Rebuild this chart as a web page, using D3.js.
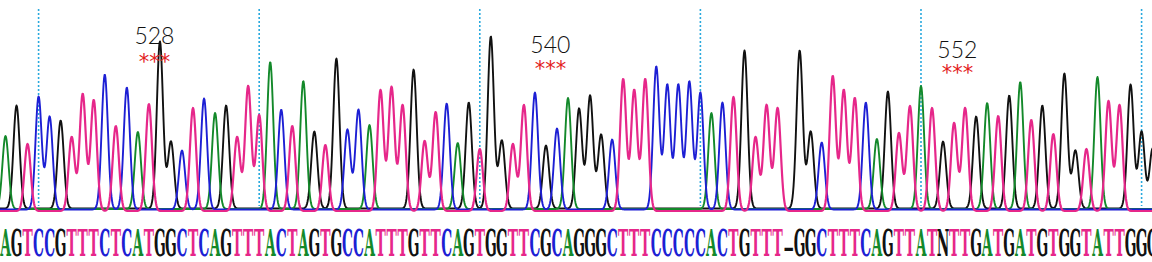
<!DOCTYPE html>
<html>
<head>
<meta charset="utf-8">
<script src="https://cdn.jsdelivr.net/npm/d3@7"></script>
<style>
  html, body { margin: 0; padding: 0; background: #fff; overflow: hidden; }
  svg { display: block; }
  .base { font-family: "DejaVu Serif Condensed", "DejaVu Serif", serif; font-stretch: condensed; font-weight: bold; font-size: 18px; }
  .pos { font-family: Lato, "Open Sans", sans-serif; font-weight: 300; font-size: 23px; fill: #111; }
  .stars { font-family: "DejaVu Sans", sans-serif; font-size: 21px; fill: #e3201c; }
</style>
</head>
<body>
<script>
// called bases, left to right (last one is cut off by the window edge)
const bases = ("AGTCCGTTTCTCATGGCTCAGTTTAC" +
               "TAGTGCCATTTGTTCAGTGGTTCGCA" +
               "GGGCTTTCCCCCACTGTTT-GGCTTTC" +
               "AGTTATNTTGATGATGTGGTATTGG" + "G").split("");

// peak height of each called base (signal units, 0 = baseline)
const peakHeights = [
   73, 103,  67, 113,  93,  88,  74, 117, 111, 135,
   85, 122,  77, 107, 167,  67,  59, 103, 111,  96,
  103,  74, 125,  96, 147, 100,  85, 128,  77,  66,
  150,  80, 100,  84, 121, 124, 106, 139,  70,  99,
  106,  66, 106,  62, 172,  68,  67, 106, 117,  63,
   81, 111, 100, 113,  74,  70, 132, 121, 132, 143,
  125, 125, 128, 117,  96, 107, 114, 158,  74, 106,
  103,   0, 158,  77,  67, 135, 121, 113, 107,  70,
  117,  78, 105, 123, 103,  67,  88, 103,  92, 106,
   95, 113, 127,  91, 103,  77, 135,  58,  62, 132,
  110, 106, 124,  77,  60
];

// dotted grid marks, at base index
const gridBases = [3, 23, 43, 63, 83, 103];

// codon markers: label, base position, label baseline and star baseline (signal units)
const markerLabels = ["528", "540", "552"];
const markerBases = [13.5, 49.4, 86.3];
const markerLevels = [166, 157, 152.5];
const starLevels = [141.5, 134.5, 130];

const width = 1152, height = 262;
const baseY = 210;
const channels = ["G", "A", "C", "T"];
const colors = { A: "#13892a", C: "#1d1fd4", G: "#111111", T: "#e6278a", N: "#111111", "-": "#111111" };
const channelOffset = { G: -1.5, A: -1, C: -0.5, T: 1 };

const x = d3.scaleLinear().domain([0, bases.length - 1]).range([5.5, 5.5 + (bases.length - 1) * 11.03]);
const y = d3.scaleLinear().domain([0, 200]).range([baseY, baseY - 200]);

const svg = d3.select("body").append("svg")
  .attr("width", width)
  .attr("height", height);

// dotted marks
svg.selectAll(".grid")
  .data(gridBases)
  .enter().append("line")
  .attr("class", "grid")
  .attr("x1", d => x(d)).attr("x2", d => x(d))
  .attr("y1", 9).attr("y2", baseY - 4)
  .attr("stroke", "#2aa9dd")
  .attr("stroke-width", 1.6)
  .attr("stroke-dasharray", "2,2");

// traces
const sigma = 3.1;
const peaks = bases.map((b, i) => ({ ch: b === "N" ? "G" : b, i: i, h: peakHeights[i] }))
  .filter(p => p.ch !== "-");

const samples = d3.range(-4, width + 4, 0.5);
channels.forEach(ch => {
  const own = peaks.filter(p => p.ch === ch);
  const pts = samples.map(px => {
    let v = 0;
    own.forEach(p => {
      const dx = px - x(p.i);
      if (Math.abs(dx) < 20) v += p.h * Math.exp(-dx * dx / (2 * sigma * sigma));
    });
    return [px, y(v) + channelOffset[ch]];
  });
  svg.append("path")
    .attr("d", d3.line()(pts))
    .attr("fill", "none")
    .attr("stroke", colors[ch])
    .attr("stroke-width", ch === "T" ? 2.2 : 1.9)
    .attr("stroke-linejoin", "round");
});

// sequence letters
svg.selectAll(".base")
  .data(bases)
  .enter().append("text")
  .attr("class", "base")
  .attr("text-anchor", "middle")
  .attr("transform", (d, i) => d === "-"
      ? `translate(${x(i)},256) scale(1.7,1.3)`
      : `translate(${x(i)},256) scale(0.85,2.1)`)
  .attr("fill", d => colors[d])
  .text(d => d);

// codon labels
markerLabels.forEach((lab, k) => {
  svg.append("text")
    .attr("class", "pos")
    .attr("text-anchor", "middle")
    .attr("x", x(markerBases[k]))
    .attr("y", y(markerLevels[k]))
    .text(lab);
  svg.append("text")
    .attr("class", "stars")
    .attr("text-anchor", "middle")
    .attr("x", x(markerBases[k]))
    .attr("y", y(starLevels[k]))
    .text("***");
});
</script>
</body>
</html>
